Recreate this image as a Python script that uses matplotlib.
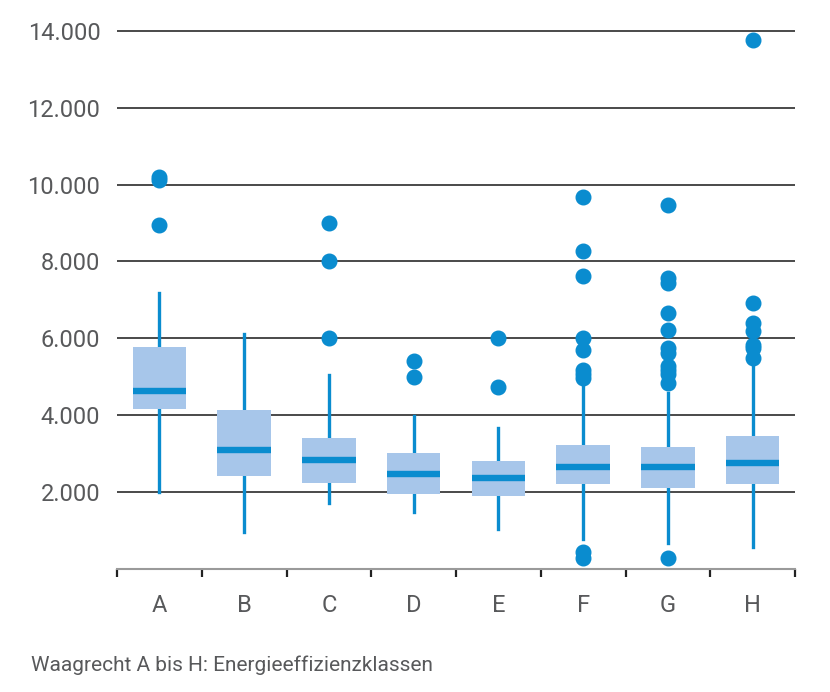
import matplotlib
matplotlib.use("Agg")
import matplotlib.pyplot as plt
from matplotlib.ticker import FuncFormatter, FixedLocator

# Energieeffizienzklassen
classes = ["A", "B", "C", "D", "E", "F", "G", "H"]

# box statistics
medians = [4620, 3095, 2835, 2480, 2380, 2650, 2645, 2750]
q1 = [4160, 2410, 2245, 1960, 1905, 2200, 2120, 2200]
q3 = [5780, 4130, 3400, 3025, 2820, 3235, 3185, 3470]
whisker_low = [2000, 950, 1710, 1470, 1050, 785, 680, 565]
whisker_high = [7170, 6105, 5035, 3975, 3680, 4755, 4585, 5280]

outliers_a = [10200, 10110, 8960]
outliers_b = []
outliers_c = [8990, 8010, 6000]
outliers_d = [5420, 4985]
outliers_e = [6000, 4730]
outliers_f = [9670, 8280, 7620, 6000, 5710, 5170, 5060, 4970, 450, 280]
outliers_g = [9480, 7580, 7450, 6670, 6210, 5750, 5620, 5280, 5165, 5060, 4845, 280]
outliers_h = [13760, 6910, 6400, 6200, 5840, 5760, 5500]
outliers = [outliers_a, outliers_b, outliers_c, outliers_d,
            outliers_e, outliers_f, outliers_g, outliers_h]

yticks = [2000, 4000, 6000, 8000, 10000, 12000, 14000]

text_color = "#58595b"
box_color = "#a7c6ea"
blue = "#0a8ccf"
plt.rcParams["font.family"] = ["Roboto", "DejaVu Sans"]

stats = []
for i, name in enumerate(classes):
    stats.append({
        "label": name,
        "med": medians[i],
        "q1": q1[i],
        "q3": q3[i],
        "whislo": whisker_low[i],
        "whishi": whisker_high[i],
        "fliers": outliers[i],
    })

fig = plt.figure(figsize=(8.3, 6.92), dpi=100)
ax = fig.add_axes([117 / 830, (692 - 569) / 692, (795 - 117) / 830, (569 - 27) / 692])

ax.bxp(stats, positions=range(1, 9), widths=0.63, patch_artist=True, showcaps=False,
       boxprops=dict(facecolor=box_color, edgecolor="none", linewidth=0),
       medianprops=dict(color=blue, linewidth=4.6, solid_capstyle="butt"),
       whiskerprops=dict(color=blue, linewidth=2.4),
       flierprops=dict(marker="o", markerfacecolor=blue, markeredgecolor=blue,
                       markersize=10.5, linestyle="none"))

# whiskers go behind the boxes
for line in ax.lines:
    if line.get_linewidth() == 2.4:
        line.set_zorder(1)

ax.set_xlim(0.5, 8.5)
ax.set_ylim(0, 14100)

ax.set_yticks(yticks)
ax.yaxis.set_major_formatter(FuncFormatter(lambda v, p: f"{int(v):,}".replace(",", ".")))
ax.grid(axis="y", color="#2b2b2b", linewidth=1.2)
ax.set_axisbelow(True)
ax.tick_params(axis="y", length=0, pad=12, labelsize=17, labelcolor=text_color)

ax.xaxis.set_major_locator(FixedLocator([i + 0.5 for i in range(0, 9)]))
ax.xaxis.set_minor_locator(FixedLocator(range(1, 9)))
ax.set_xticklabels([])
ax.set_xticklabels(classes, minor=True)
ax.tick_params(axis="x", which="major", direction="out", length=6, width=1.6, color="#222222")
ax.tick_params(axis="x", which="minor", length=0, pad=18, labelsize=17, labelcolor=text_color)

for side in ["top", "right", "left"]:
    ax.spines[side].set_visible(False)
ax.spines["bottom"].set_color("#9a9a9a")
ax.spines["bottom"].set_linewidth(1.5)

fig.text(31 / 830, 1 - 665 / 692, "Waagrecht A bis H: Energieeffizienzklassen",
         fontsize=15, color=text_color, va="center", ha="left")

fig.savefig("out.png", dpi=100)
